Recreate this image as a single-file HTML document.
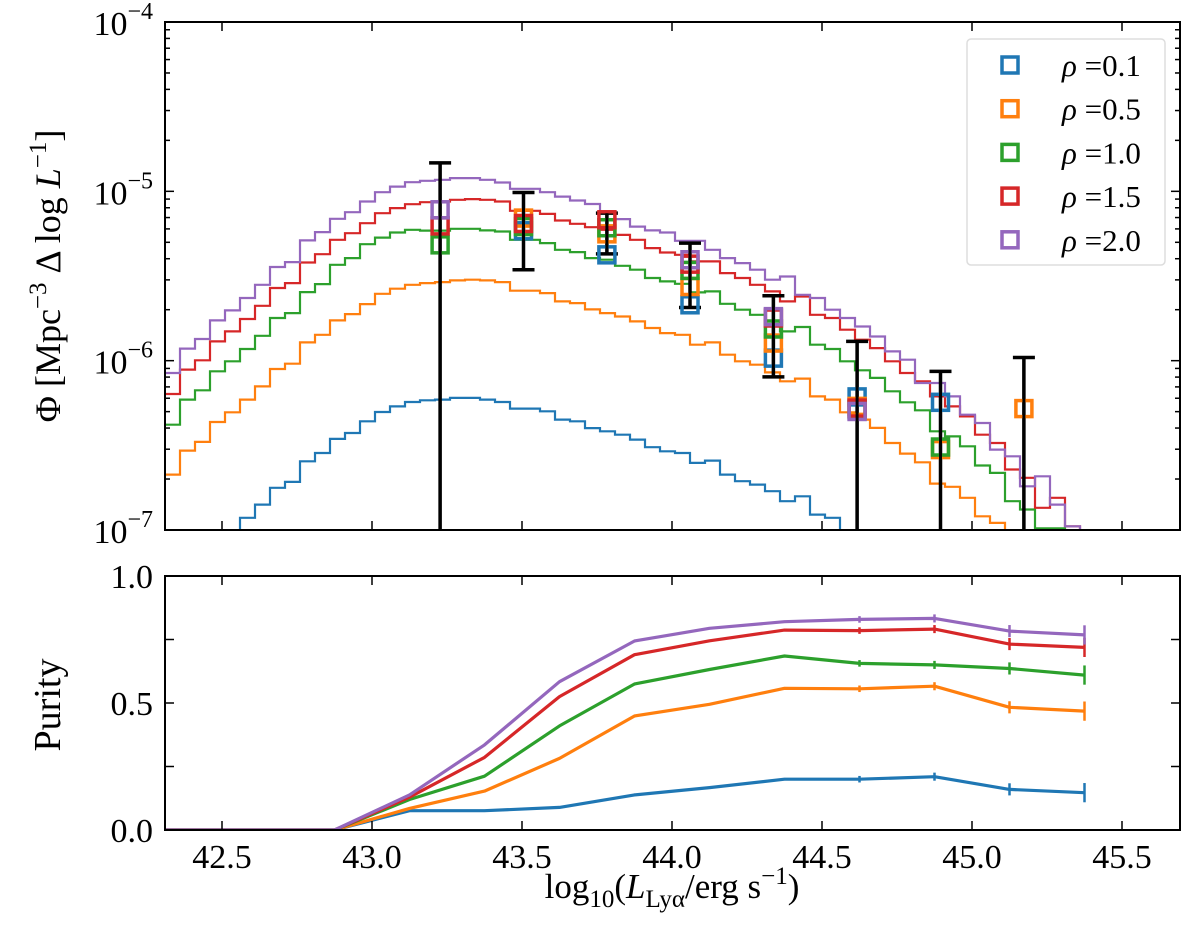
<!DOCTYPE html>
<html><head><meta charset="utf-8">
<style>
html,body{margin:0;padding:0;background:#fff;}
svg{display:block;}
text{font-family:"Liberation Serif","DejaVu Serif",serif;fill:#000;}
</style></head>
<body>
<svg id="chart" width="1200" height="950" viewBox="0 0 1200 950" xmlns="http://www.w3.org/2000/svg">
<defs>
<clipPath id="clipTop"><rect x="165" y="22" width="1015" height="508"/></clipPath>
<clipPath id="clipBot"><rect x="165" y="576" width="1015" height="254"/></clipPath>
</defs>
<g id="topPanel"></g>
<g id="botPanel"></g>
<g id="legendBox"></g>
<text transform="translate(60,276) rotate(-90)" text-anchor="middle" font-size="36">Φ [Mpc<tspan dy="-14" font-size="25">−3</tspan><tspan dy="14"> Δ log </tspan><tspan font-style="italic">L</tspan><tspan dy="-14" font-size="25">−1</tspan><tspan dy="14">]</tspan></text>
<text transform="translate(60,705) rotate(-90)" text-anchor="middle" font-size="38">Purity</text>
<text x="672" y="898" text-anchor="middle" font-size="35">log<tspan dy="9" font-size="25">10</tspan><tspan dy="-9">(</tspan><tspan font-style="italic">L</tspan><tspan dy="9" font-size="25">Lyα</tspan><tspan dy="-9">/erg s</tspan><tspan dy="-14" font-size="25">−1</tspan><tspan dy="14">)</tspan></text>
</svg>
<script>
// ---------- DATA ----------
const seriesNames = ["ρ =0.1","ρ =0.5","ρ =1.0","ρ =1.5","ρ =2.0"];
const colors = ["#1f77b4","#ff7f0e","#2ca02c","#d62728","#9467bd"];
const binStart = 42.31;
const binWidth = 0.05;
// log10(Phi) per histogram bin
const histBlue = [-7.1,-7.1,-7.1,-7.1,-7.05,-6.928,-6.850,-6.751,-6.716,-6.594,-6.545,-6.462,-6.427,-6.358,-6.303,-6.270,-6.244,-6.234,-6.230,-6.220,-6.220,-6.230,-6.244,-6.283,-6.283,-6.299,-6.348,-6.358,-6.398,-6.417,-6.437,-6.466,-6.511,-6.535,-6.545,-6.604,-6.590,-6.673,-6.712,-6.732,-6.771,-6.830,-6.801,-6.909,-6.928,-7.1,-7.1];
const histOrange = [-6.673,-6.531,-6.480,-6.362,-6.305,-6.230,-6.152,-6.049,-6.018,-5.892,-5.847,-5.762,-5.725,-5.666,-5.605,-5.575,-5.552,-5.542,-5.536,-5.526,-5.522,-5.526,-5.536,-5.587,-5.587,-5.601,-5.650,-5.660,-5.697,-5.719,-5.739,-5.768,-5.807,-5.837,-5.847,-5.906,-5.892,-5.965,-6.004,-6.024,-6.069,-6.122,-6.106,-6.211,-6.230,-6.305,-6.348,-6.397,-6.486,-6.549,-6.600,-6.726,-6.745,-6.810,-6.919,-6.958,-7.1];
const histGreen = [-6.378,-6.230,-6.175,-6.063,-6.004,-5.931,-5.853,-5.748,-5.719,-5.595,-5.548,-5.434,-5.394,-5.312,-5.273,-5.243,-5.227,-5.232,-5.232,-5.221,-5.221,-5.231,-5.237,-5.286,-5.286,-5.306,-5.345,-5.359,-5.394,-5.404,-5.440,-5.463,-5.512,-5.532,-5.546,-5.597,-5.591,-5.664,-5.699,-5.729,-5.768,-5.827,-5.801,-5.906,-5.931,-6.004,-6.057,-6.102,-6.181,-6.246,-6.293,-6.417,-6.447,-6.506,-6.619,-6.663,-6.830,-6.879,-6.990,-6.990,-7.1];
const histRed = [-6.197,-6.053,-5.998,-5.886,-5.827,-5.754,-5.676,-5.571,-5.542,-5.420,-5.371,-5.286,-5.247,-5.188,-5.129,-5.099,-5.076,-5.064,-5.060,-5.050,-5.046,-5.050,-5.060,-5.115,-5.115,-5.133,-5.172,-5.192,-5.212,-5.227,-5.257,-5.286,-5.335,-5.361,-5.375,-5.414,-5.414,-5.483,-5.512,-5.552,-5.591,-5.650,-5.621,-5.729,-5.748,-5.817,-5.876,-5.926,-6.004,-6.073,-6.122,-6.211,-6.270,-6.329,-6.437,-6.486,-6.643,-6.692,-6.869,-6.810,-6.978,-7.1];
const histPurple = [-6.073,-5.929,-5.872,-5.762,-5.703,-5.630,-5.552,-5.447,-5.418,-5.290,-5.241,-5.162,-5.123,-5.060,-5.005,-4.972,-4.946,-4.938,-4.932,-4.922,-4.922,-4.932,-4.948,-4.985,-4.985,-5.005,-5.031,-5.054,-5.075,-5.129,-5.164,-5.208,-5.231,-5.243,-5.292,-5.292,-5.345,-5.394,-5.424,-5.463,-5.522,-5.503,-5.611,-5.630,-5.699,-5.748,-5.798,-5.857,-5.945,-5.994,-6.132,-6.132,-6.211,-6.319,-6.368,-6.525,-6.565,-6.742,-6.683,-6.850,-6.978,-7.1];
const histSeries = [histBlue,histOrange,histGreen,histRed,histPurple];

// observed points (log10 Phi), null = not shown
const obsX = [43.227,43.505,43.783,44.06,44.338,44.617,44.895,45.173];
const obsBlue   = [null,-5.233,-5.375,-5.670,-5.985,-6.214,-6.246,null];
const obsOrange = [null,-5.158,-5.251,-5.562,-5.896,-6.270,-6.525,-6.283];
const obsGreen  = [-5.316,-5.208,-5.215,-5.467,-5.813,-6.289,-6.510,null];
const obsRed    = [-5.204,-5.190,-5.168,-5.430,-5.748,-6.280,null,null];
const obsPurple = [-5.109,null,null,-5.404,-5.740,-6.300,null,null];
const obsSeries = [obsBlue,obsOrange,obsGreen,obsRed,obsPurple];
const errTop = [-4.832,-5.007,-5.129,-5.306,-5.617,-5.886,-6.063,-5.981];
const errBottom = [-8,-5.463,-5.369,-5.686,-6.096,-8,-8,-8];

// purity
const purX = [42.125,42.375,42.625,42.875,43.125,43.375,43.625,43.875,44.125,44.375,44.625,44.875,45.125,45.375];
const purBlue   = [0,0,0,0,0.076,0.076,0.089,0.138,0.167,0.200,0.200,0.210,0.160,0.147];
const purOrange = [0,0,0,0,0.085,0.153,0.282,0.449,0.495,0.558,0.556,0.566,0.483,0.468];
const purGreen  = [0,0,0,0,0.120,0.212,0.410,0.575,0.632,0.685,0.656,0.650,0.636,0.610];
const purRed    = [0,0,0,0,0.129,0.286,0.525,0.690,0.745,0.787,0.785,0.791,0.732,0.719];
const purPurple = [0,0,0,0,0.138,0.335,0.584,0.744,0.794,0.820,0.829,0.833,0.783,0.768];
const purSeries = [purBlue,purOrange,purGreen,purRed,purPurple];
const purErr = [0,0,0,0,0,0,0,0,0,0,0.005,0.008,0.016,0.03];

const xTicks = [42.5,43.0,43.5,44.0,44.5,45.0,45.5];
const xTickLabels = ["42.5","43.0","43.5","44.0","44.5","45.0","45.5"];
const yDecades = [-7,-6,-5,-4];
const purTicks = [0,0.25,0.5,0.75,1.0];
const purTickLabels = ["0.0","","0.5","","1.0"];

// ---------- SCALES ----------
const L=165,R=1180,T1=22,B1=530,T2=576,B2=830;
const xs = v => 222 + (v-42.5)*300;
const ys = lg => T1 + (-4 - lg)*((B1-T1)/3);
const yp = v => B2 - v*(B2-T2);
const NS="http://www.w3.org/2000/svg";
function mk(tag, attrs, parent){const e=document.createElementNS(NS,tag);for(const k in attrs)e.setAttribute(k,attrs[k]);parent.appendChild(e);return e;}

const topG=document.getElementById('topPanel'), botG=document.getElementById('botPanel'), legG=document.getElementById('legendBox');

// ---------- TOP PANEL ----------
const histG = mk('g',{'clip-path':'url(#clipTop)'},topG);
histSeries.forEach((arr,si)=>{
  let d='';
  arr.forEach((v,i)=>{
    const x0=xs(binStart+i*binWidth), x1=xs(binStart+(i+1)*binWidth), y=ys(Math.max(v,-7.3));
    d += (i===0?'M':'L')+x0.toFixed(1)+','+y.toFixed(1)+'L'+x1.toFixed(1)+','+y.toFixed(1);
  });
  const p=mk('path',{d:d,fill:'none',stroke:colors[si],'stroke-width':2.2},histG);
  
  
});
// error bars
const errG = mk('g',{'clip-path':'url(#clipTop)'},topG);
obsX.forEach((xv,i)=>{
  const x=xs(xv), yt=ys(errTop[i]), yb=ys(errBottom[i]);
  const g=mk('g',{},errG);
  
  
  mk('line',{x1:x,x2:x,y1:yt,y2:yb,stroke:'#000','stroke-width':3.5},g);
  mk('line',{x1:x-11,x2:x+11,y1:yt,y2:yt,stroke:'#000','stroke-width':3.5},g);
  if(errBottom[i]>-7) mk('line',{x1:x-11,x2:x+11,y1:yb,y2:yb,stroke:'#000','stroke-width':3.5},g);
});
// markers
obsSeries.forEach((arr,si)=>{
  arr.forEach((v,i)=>{
    if(v===null) return;
    const x=xs(obsX[i]), y=ys(v);
    const r=mk('rect',{x:x-8,y:y-8,width:16,height:16,fill:'none',stroke:colors[si],'stroke-width':3.5},topG);
    
    
  });
});
obsX.forEach((xv,i)=>{const x=xs(xv);mk('line',{x1:x,x2:x,y1:ys(errTop[i]),y2:Math.min(ys(errBottom[i]),B1),stroke:'#000','stroke-width':3},topG);});
mk('rect',{x:L,y:T1,width:R-L,height:B1-T1,fill:'none',stroke:'#000','stroke-width':2},topG);
for(let d=-7; d<=-5; d++){
  for(let m=1;m<=9;m++){
    const lg=d+Math.log10(m); const y=ys(lg); const len=(m===1)?9:5;
    mk('line',{x1:L,x2:L+len,y1:y,y2:y,stroke:'#000','stroke-width':1.5},topG);
    mk('line',{x1:R,x2:R-len,y1:y,y2:y,stroke:'#000','stroke-width':1.5},topG);
  }
}
yDecades.forEach(d=>{
  const y=ys(d);
  const t=mk('text',{x:L-12,y:y+13,'text-anchor':'end','font-size':34},topG);
  
  
  t.innerHTML='10<tspan dy="-16" font-size="24">−'+(-d)+'</tspan>';
});
xTicks.forEach(v=>{
  const x=xs(v);
  mk('line',{x1:x,x2:x,y1:B1,y2:B1-9,stroke:'#000','stroke-width':1.5},topG);
  mk('line',{x1:x,x2:x,y1:T1,y2:T1+9,stroke:'#000','stroke-width':1.5},topG);
});

// ---------- BOTTOM PANEL ----------
const purG = mk('g',{'clip-path':'url(#clipBot)'},botG);
purSeries.forEach((arr,si)=>{
  const pts=arr.map((v,i)=>xs(purX[i]).toFixed(1)+','+yp(v).toFixed(1)).join(' ');
  const pl=mk('polyline',{points:pts,fill:'none',stroke:colors[si],'stroke-width':3.2,'stroke-linejoin':'round'},purG);
  
  
  arr.forEach((v,i)=>{
    if(purErr[i]>0){
      const x=xs(purX[i]);
      mk('line',{x1:x,x2:x,y1:yp(v+purErr[i])-2,y2:yp(v-purErr[i])+2,stroke:colors[si],'stroke-width':2.5},purG);
    }
  });
});
mk('rect',{x:L,y:T2,width:R-L,height:B2-T2,fill:'none',stroke:'#000','stroke-width':2},botG);
purTicks.forEach((v,i)=>{
  const y=yp(v);
  mk('line',{x1:L,x2:L+9,y1:y,y2:y,stroke:'#000','stroke-width':1.5},botG);
  mk('line',{x1:R,x2:R-9,y1:y,y2:y,stroke:'#000','stroke-width':1.5},botG);
  if(purTickLabels[i]){
    const t=mk('text',{x:L-12,y:y+12,'text-anchor':'end','font-size':34},botG);
    
    
    t.textContent=purTickLabels[i];
  }
});
xTicks.forEach((v,i)=>{
  const x=xs(v);
  mk('line',{x1:x,x2:x,y1:B2,y2:B2-9,stroke:'#000','stroke-width':1.5},botG);
  mk('line',{x1:x,x2:x,y1:T2,y2:T2+9,stroke:'#000','stroke-width':1.5},botG);
  const t=mk('text',{x:x,y:B2+38,'text-anchor':'middle','font-size':34},botG);
  
  
  t.textContent=xTickLabels[i];
});

// ---------- LEGEND ----------
mk('rect',{x:967,y:39,width:198,height:226,rx:4,fill:'#fff','fill-opacity':0.85,stroke:'#ddd','stroke-width':1.5},legG);
seriesNames.forEach((n,i)=>{
  const y=65+i*43.7;
  const g=mk('g',{},legG);
  
  
  mk('rect',{x:1002,y:y-8,width:16,height:16,fill:'none',stroke:colors[i],'stroke-width':3.5},g);
  const t=mk('text',{x:1062,y:y+11,'font-size':31},g);
  t.innerHTML='<tspan font-style="italic">ρ</tspan> ='+n.split('=')[1];
});
</script>
</body></html>
